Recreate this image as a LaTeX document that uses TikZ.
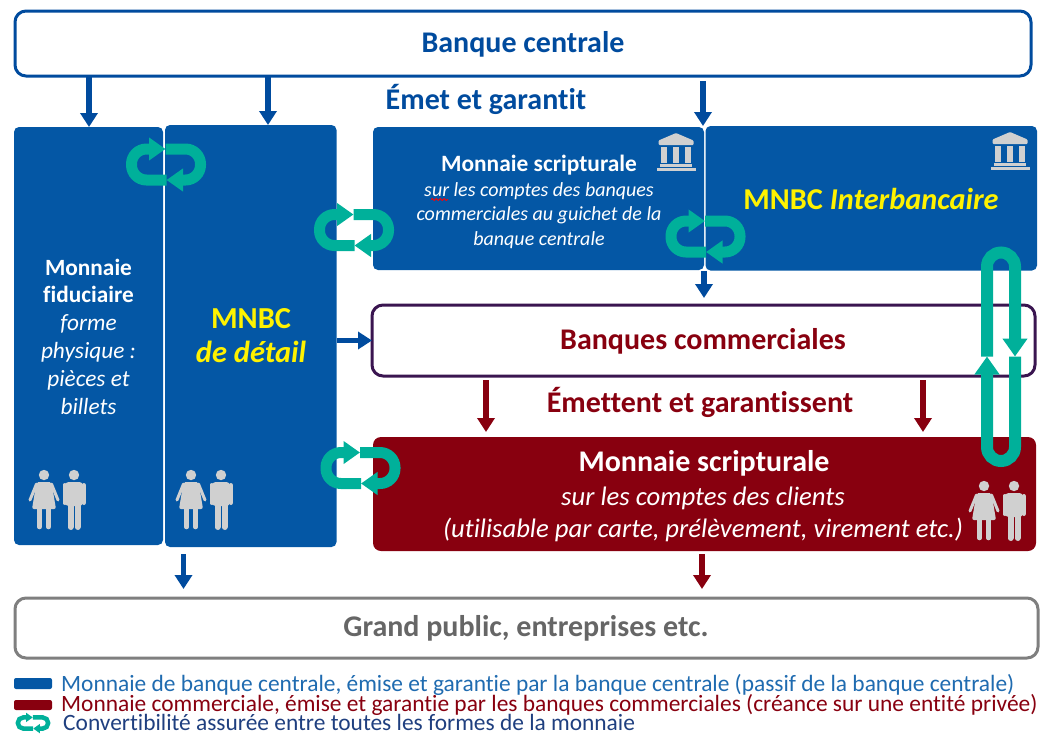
\documentclass[tikz,border=0pt]{standalone}
\usepackage{fontspec}
\setmainfont[Ligatures=NoCommon]{Carlito}
\usetikzlibrary{arrows.meta}
\usetikzlibrary{decorations.pathmorphing}

\definecolor{bcblue}{HTML}{0457A5}
\definecolor{arblue}{HTML}{004B9E}
\definecolor{legblue}{HTML}{1F6BB0}
\definecolor{nvyblue}{HTML}{1F3F7F}
\definecolor{bcred}{HTML}{88000F}
\definecolor{bcpurple}{HTML}{3A1550}
\definecolor{bcteal}{HTML}{00B09A}
\definecolor{icongrey}{HTML}{D0D0D0}
\definecolor{bcgrey}{HTML}{7F7F7F}
\definecolor{txtgrey}{HTML}{666666}

\tikzset{
    box/.style={rectangle,inner sep=0pt,outer sep=0pt,rounded corners=#1},
    box/.default=5pt,
    bluebox/.style={box,fill=bcblue},
    framebox/.style={box=11pt,fill=white,line width=3pt},
    blueflow/.style={draw=arblue,line width=5.5pt,-{Triangle[length=14pt,width=17pt]}},
    redflow/.style={draw=bcred,line width=5.5pt,-{Triangle[length=14pt,width=17pt]}},
    convline/.style={draw=bcteal,-{Triangle[length=0pt 1.5,width=0pt 2]}},
    legendtext/.style={anchor=west,inner sep=0pt,font=\fontsize{23.4}{24}\selectfont},
    pics/conv/.style n args={2}{code={
        \draw[convline,line width=#1,rounded corners=#2] (0.5,15.5) -- (-34.5,15.5) -- (-34.5,-15.5) -- (-0.5,-15.5);
        \draw[convline,line width=#1,rounded corners=#2] (-0.5,-15.5) -- (34.5,-15.5) -- (34.5,15.5) -- (0.5,15.5);
    }},
    pics/people/.style={code={
        % woman
        \fill[icongrey] (0,0) circle (5.2);
        \fill[icongrey,rounded corners=2pt] (-7.5,7) -- (7.5,7) -- (12,34) -- (-12,34) -- cycle;
        \draw[icongrey,line width=3pt,line cap=round] (-7.5,9) -- (-14,25);
        \draw[icongrey,line width=3pt,line cap=round] (7.5,9) -- (14,25);
        \draw[icongrey,line width=4.5pt,line cap=round] (-4.5,34) -- (-4.5,52);
        \draw[icongrey,line width=4.5pt,line cap=round] (4.5,34) -- (4.5,52);
        % man
        \fill[icongrey] (30,0) circle (5.2);
        \fill[icongrey,rounded corners=3pt] (21.5,7) -- (38.5,7) -- (38.5,31) -- (21.5,31) -- cycle;
        \draw[icongrey,line width=4pt,line cap=round] (20.5,10) -- (20.5,28);
        \draw[icongrey,line width=4pt,line cap=round] (39.5,10) -- (39.5,28);
        \draw[icongrey,line width=6pt,line cap=round] (26.5,30) -- (26.5,52);
        \draw[icongrey,line width=6pt,line cap=round] (33.5,30) -- (33.5,52);
    }},
    pics/bank/.style={code={
        \fill[icongrey,rounded corners=1pt] (0,0) -- (17.5,7.5) -- (17.5,12) -- (-17.5,12) -- (-17.5,7.5) -- cycle;
        \foreach \xc in {-12,0,12}
            \fill[icongrey] (\xc-3,14) rectangle (\xc+3,30);
        \fill[icongrey] (-16,31) rectangle (16,33.5);
        \fill[icongrey] (-19.5,34.5) rectangle (19.5,37.5);
    }},
}

\begin{document}
\begin{tikzpicture}[x=1pt,y=-1pt]
    \useasboundingbox (0,0) rectangle (1052,737);

    % boxes
    \node[framebox,draw=arblue,minimum width=1016,minimum height=65] (central) at (523,43.5){};
    \node[bluebox,minimum width=149,minimum height=418] (fiduciaire) at (88.5,336){};
    \node[bluebox,minimum width=171.5,minimum height=422] (detail) at (250.75,336){};
    \node[bluebox,minimum width=331,minimum height=143] (scriptblue) at (538.5,198.5){};
    \node[bluebox,minimum width=331.5,minimum height=144.5] (inter) at (871.25,198.25){};
    \node[framebox,draw=bcpurple,minimum width=663,minimum height=71] (banques) at (703.5,340.5){};
    \node[box=8pt,fill=bcred,minimum width=663,minimum height=114] (scriptred) at (704.5,494){};
    \node[framebox,draw=bcgrey,minimum width=1023,minimum height=60] (public) at (526.5,628){};

    % labels
    \node[text=arblue,font=\fontsize{30}{34}\bfseries\selectfont] (lcentral) at (523,44.5){Banque centrale};
    \node[text=arblue,font=\fontsize{30}{34}\bfseries\selectfont] (lemet) at (486,99){Émet et garantit};
    \node[text=white,align=center,font=\fontsize{23.3}{27.8}\selectfont] (lfid) at (88.5,336.5){\textbf{Monnaie}\\\textbf{fiduciaire}\\\textit{forme}\\\textit{physique :}\\\textit{pièces et}\\\textit{billets}};
    \node[text=yellow,align=center,font=\fontsize{30.5}{34}\bfseries\selectfont] (ldetail) at (251,336){MNBC\\\textit{de détail}};
    \node[text=white,align=center,font=\fontsize{20}{24.5}\selectfont] (lscript) at (539,202){\textbf{\fontsize{23.4}{24.5}\selectfont Monnaie scripturale}\\\textit{sur les comptes des banques}\\\textit{commerciales au guichet de la}\\\textit{banque centrale}};
    \node[text=yellow,font=\fontsize{30.3}{34}\bfseries\selectfont] (linter) at (871,199){MNBC \textit{Interbancaire}};
    \node[text=bcred,font=\fontsize{30}{34}\bfseries\selectfont] (lbanques) at (703,341){Banques commerciales};
    \node[text=bcred,font=\fontsize{30}{34}\bfseries\selectfont] (lemettent) at (700,402){Émettent et garantissent};
    \node[text=white,font=\fontsize{30}{34}\bfseries\selectfont] (lclients) at (704,463.5){Monnaie scripturale};
    \node[text=white,align=center,font=\fontsize{26.7}{32}\itshape\selectfont] (lsur) at (703,514){sur les comptes des clients\\(utilisable par carte, prélèvement, virement etc.)};
    \node[text=txtgrey,font=\fontsize{30}{34}\bfseries\selectfont] (lpublic) at (526,628){Grand public, entreprises etc.};
    \coordinate (sqa) at (431,199.5);
    \coordinate (sqb) at (448,199.5);
    \draw[red,line width=.9pt,decorate,decoration={snake,amplitude=1,segment length=4}] (sqa) -- (sqb);

    % flows
    \coordinate (fa) at (89,76);
    \coordinate (fb) at (268,76);
    \coordinate (fc) at (703,81);
    \draw[blueflow] (fa) -- (fa |- fiduciaire.north);
    \draw[blueflow] (fb) -- (fb |- detail.north);
    \draw[blueflow] (fc) -- (fc |- inter.north);
    \coordinate (fd) at (704,271);
    \draw[blueflow] (fd) -- (704,298);
    \draw[blueflow] (detail.east |- banques.west) -- (banques.west);
    \coordinate (fe) at (183.5,554);
    \draw[blueflow] (fe) -- (183.5,589);
    \coordinate (ra) at (486,380);
    \coordinate (rb) at (923,380);
    \coordinate (rc) at (702,554);
    \draw[redflow] (ra) -- (486,432);
    \draw[redflow] (rb) -- (923,432);
    \draw[redflow] (rc) -- (702,589);

    % convertibility
    \pic at (166,164.5) {conv={11pt}{15pt}};
    \pic at (354,230) {conv={11pt}{15pt}};
    \pic at (705.5,236.5) {conv={11pt}{15pt}};
    \pic at (360.5,468) {conv={11pt}{15pt}};
    \draw[convline,line width=12pt,rounded corners=14pt] (987,356.5) -- (987,252.5) -- (1015,252.5) -- (1015,356.5);
    \draw[convline,line width=12pt,rounded corners=14pt] (1015,356.5) -- (1015,461) -- (987,461) -- (987,356.5);

    % icons
    \pic at (44,475) {people};
    \pic at (191,475) {people};
    \pic at (984,486) {people};
    \pic at (676,133) {bank};
    \pic at (1010,132) {bank};

    % legend
    \node[box=2pt,fill=bcblue,minimum width=38,minimum height=11] (legb) at (33,683.5){};
    \node[box=2pt,fill=bcred,minimum width=38,minimum height=10] (legr) at (33,705){};
    \pic[xscale=.44,yscale=.36] at (33,723) {conv={4.5pt}{5.5pt}};
    \node[legendtext,text=legblue] (tb) at (61,685){Monnaie de banque centrale, émise et garantie par la banque centrale (passif de la banque centrale)};
    \node[legendtext,text=bcred] (tr) at (61,705){Monnaie commerciale, émise et garantie par les banques commerciales (créance sur une entité privée)};
    \node[legendtext,text=nvyblue] (tc) at (63,722){Convertibilité assurée entre toutes les formes de la monnaie};
\end{tikzpicture}
\end{document}
